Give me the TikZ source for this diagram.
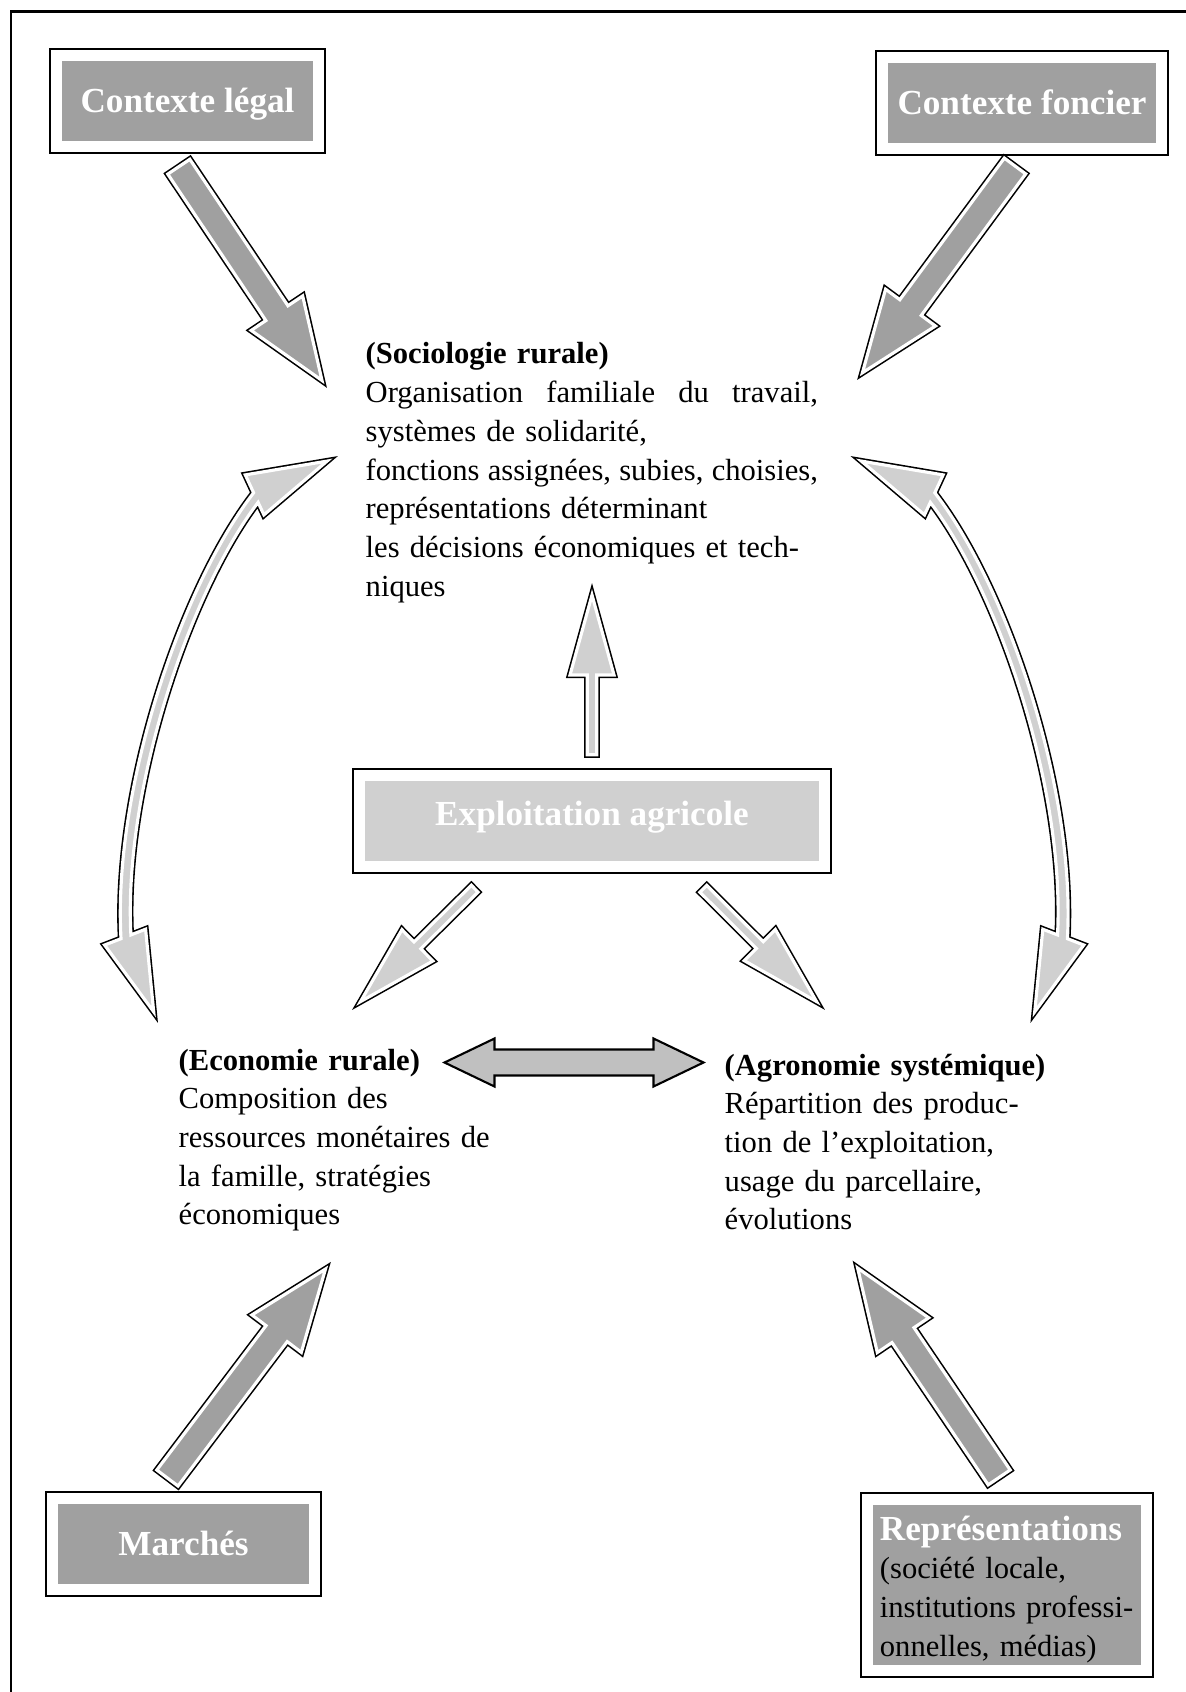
\documentclass[tikz,border=0pt]{standalone}
\usepackage{fontspec}
\setmainfont{Liberation Serif}
\usetikzlibrary{calc,fit}

\definecolor{boxdark}{RGB}{160,160,160}
\definecolor{boxlight}{RGB}{208,208,208}
\definecolor{arrowmid}{RGB}{192,192,192}

\tikzset{
  boxfill/.style={fill=boxdark, text=white, font=\fontsize{10}{12}\selectfont\bfseries,
    inner sep=0pt, minimum height=0.8cm},
  darkbox/.style={boxfill, text height=6.6pt, text depth=0pt},
  lightbox/.style={boxfill, fill=boxlight, text height=4.5pt, text depth=2.2pt},
  boxframe/.style={draw=black, line width=0.5pt, inner sep=0.11cm},
  txt/.style={font=\fontsize{8.7}{11}\selectfont, align=left, inner sep=0pt, anchor=base west},
  darkarrow/.style={preaction={draw=black, line width=1.8pt}, draw=white, line width=0.9pt, fill=boxdark},
  lightarrow/.style={darkarrow, fill=boxlight},
  flatarrow/.style={draw=black, line width=0.6pt, fill=arrowmid},
}

% #1 style, #2 tail, #3 tip, #4 half shaft, #5 half head, #6 head length
\newcommand{\fatarrow}[6]{%
  \path[#1] ($(#2)!#4!90:(#3)$)
    -- ($(#3)!#6!(#2)!#4!90:(#3)$)
    -- ($(#3)!#6!(#2)!#5!90:(#3)$)
    -- (#3)
    -- ($(#3)!#6!(#2)!#5!-90:(#3)$)
    -- ($(#3)!#6!(#2)!#4!-90:(#3)$)
    -- ($(#2)!#4!-90:(#3)$) -- cycle;
}
\newcommand{\fullline}[1]{\leavevmode\hbox to 4.52cm{#1}}

\begin{document}
\begin{tikzpicture}[x=0.01cm, y=-0.01cm]
  \useasboundingbox (0,0) rectangle (1186,1692);
  \draw[line width=0.85pt] (1200,11.5) -- (11,11.5) -- (11,1710);

  \node[darkbox, minimum width=2.51cm] (legal) at (187.5,101) {Contexte légal};
  \node[darkbox, minimum width=2.68cm] (foncier) at (1022,103) {Contexte foncier};
  \node[lightbox, minimum width=4.54cm] (exploit) at (592,821) {Exploitation agricole};
  \node[darkbox, minimum width=2.51cm] (marches) at (183.5,1544) {Marchés};
  \node[boxfill, text=black, text width=2.54cm, inner xsep=0.07cm, minimum height=1.6cm,
    align=left, font=\fontsize{8.7}{11}\selectfont] (repres) at (1007,1585)
    {\rule{0pt}{9.4pt}{\color{white}\bfseries\fontsize{10}{11}\selectfont Représentations}\\
     (société locale,\\institutions professi-\\onnelles, médias)};

  \foreach \n in {legal,foncier,exploit,marches,repres}
    \node[boxframe, fit=(\n)] {};

  \node[txt, text width=4.52cm] (socio) at (365,364) {\textbf{(Sociologie rurale)}\\
    \fullline{Organisation\hfill familiale\hfill du\hfill travail,}\\
    systèmes de solidarité,\\
    \fullline{fonctions\hfill assignées,\hfill subies,\hfill choisies,}\\
    représentations déterminant\\
    les décisions économiques et tech-\\
    niques};
  \node[txt, text width=3.3cm] (eco) at (178,1070) {\textbf{(Economie rurale)}\\
    Composition des\\
    ressources monétaires de\\
    la famille, stratégies\\
    économiques};
  \node[txt, text width=3.6cm] (agro) at (724,1075) {\textbf{(Agronomie systémique)}\\
    Répartition des produc-\\
    tion de l’exploitation,\\
    usage du parcellaire,\\
    évolutions};

  \coordinate (a1s) at (178.8,166.7);  \coordinate (a1e) at (322,380.5);
  \coordinate (a2s) at (1015,166);     \coordinate (a2e) at (862.4,372.8);
  \coordinate (a3s) at (167.4,1478);   \coordinate (a3e) at (325.5,1269);
  \coordinate (a4s) at (999.2,1477.4); \coordinate (a4e) at (857.6,1268);
  \coordinate (a5s) at (592,754.8);    \coordinate (a5e) at (592,595);
  \coordinate (a6s) at (474.7,888.7);  \coordinate (a6e) at (360.5,1001.6);
  \coordinate (a7s) at (703.3,888.8);  \coordinate (a7e) at (816.5,1001.5);

  \foreach \i in {1,2,3,4} {
    \fatarrow{darkarrow}{a\i s}{a\i e}{0.133cm}{0.31cm}{0.81cm}
  }
  \foreach \i in {5,6,7} {
    \fatarrow{lightarrow}{a\i s}{a\i e}{0.048cm}{0.22cm}{0.80cm}
  }

  \coordinate (dl) at (444.5,1062.5);
  \coordinate (dr) at (703.5,1062.5);
  \draw[flatarrow] (dl) -- ++(50,-24) -- ++(0,11) -- ($(dr)+(-50,-13)$) -- ++(0,-11)
    -- (dr) -- ++(-50,24) -- ++(0,-11) -- ($(dl)+(50,13)$) -- ++(0,11) -- cycle;

  \foreach \sx/\dx in {1/0,-1/1188.4}
    \path[lightarrow, shift={(\dx,0)}, xscale=\sx]
      (327.1,461.1) -- (245.3,474.9) -- (253.6,492.8)
      .. controls (180.8,586.8) and (112.7,790) .. (121.0,938.7)
      -- (104.6,945.0) -- (153.7,1011.8) -- (145.6,929.2) -- (130.9,934.9)
      .. controls (123.3,790) and (189.2,593.2) .. (258.1,502.4)
      -- (263.9,514.9) -- cycle;
\end{tikzpicture}
\end{document}
